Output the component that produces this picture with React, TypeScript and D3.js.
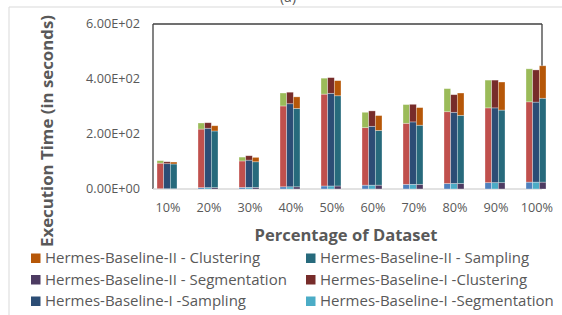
import React from 'react';
import * as d3 from 'd3';

const categories = ['10%', '20%', '30%', '40%', '50%', '60%', '70%', '80%', '90%', '100%'];
const yTicks = [0, 200, 400, 600];

// Hermes (first bar in each group)
const hermesSeg = [1, 5, 6, 8, 11, 14, 17, 20, 23, 25];
const hermesSamp = [93, 213, 96, 294, 334, 209, 222, 261, 272, 292];
const hermesClust = [9, 22, 14, 47, 58, 56, 68, 84, 101, 120];

// Hermes-Baseline-I (second bar)
const b1Seg = [1, 5, 6, 8, 11, 14, 17, 20, 23, 25];
const b1Samp = [91, 216, 99, 302, 337, 214, 227, 259, 272, 291];
const b1Clust = [7, 20, 16, 42, 57, 56, 64, 64, 101, 117];

// Hermes-Baseline-II (third bar)
const b2Seg = [1, 5, 6, 8, 11, 14, 17, 20, 23, 25];
const b2Samp = [90, 206, 93, 285, 328, 199, 215, 248, 264, 305];
const b2Clust = [7, 19, 16, 42, 55, 54, 64, 81, 102, 118];

const groups = [
  { key: 'hermes', parts: [
    { name: 'Hermes - Segmentation', values: hermesSeg, color: '#4F81BD' },
    { name: 'Hermes - Sampling', values: hermesSamp, color: '#C0504D' },
    { name: 'Hermes - Clustering', values: hermesClust, color: '#9BBB59' },
  ] },
  { key: 'b1', parts: [
    { name: 'Hermes-Baseline-I -Segmentation', values: b1Seg, color: '#4BACC6' },
    { name: 'Hermes-Baseline-I -Sampling', values: b1Samp, color: '#2C4D75' },
    { name: 'Hermes-Baseline-I -Clustering', values: b1Clust, color: '#772C2A' },
  ] },
  { key: 'b2', parts: [
    { name: 'Hermes-Baseline-II - Segmentation', values: b2Seg, color: '#4D3B62' },
    { name: 'Hermes-Baseline-II - Sampling', values: b2Samp, color: '#276A7C' },
    { name: 'Hermes-Baseline-II - Clustering', values: b2Clust, color: '#B65708' },
  ] },
];

const legendItems = [
  ['Hermes-Baseline-II - Clustering', '#B65708'],
  ['Hermes-Baseline-II - Sampling', '#276A7C'],
  ['Hermes-Baseline-II - Segmentation', '#4D3B62'],
  ['Hermes-Baseline-I -Clustering', '#772C2A'],
  ['Hermes-Baseline-I -Sampling', '#2C4D75'],
  ['Hermes-Baseline-I -Segmentation', '#4BACC6'],
];

const fmtExp = (v: number) => {
  const s = d3.format('.2e')(v); // e.g. 6.00e+2
  const [m, e] = s.split('e');
  const sign = e[0];
  const digits = e.slice(1).padStart(2, '0');
  return `${m}E${sign}${digits}`;
};

const FONT = '"Open Sans", "Noto Sans", sans-serif';
const GRAY = '#595959';

export default function App() {
  const width = 562, height = 315;
  const plot = { left: 153, right: 542, top: 24, bottom: 189 };

  const x = d3.scalePoint<string>().domain(categories).range([167, 536]);
  const inner = d3.scaleBand<string>().domain(groups.map(g => g.key)).range([-10, 10]).padding(0);
  const y = d3.scaleLinear().domain([0, 600]).range([plot.bottom, plot.top]);

  const bars: JSX.Element[] = [];
  categories.forEach((c, i) => {
    groups.forEach(g => {
      let base = 0;
      g.parts.forEach(p => {
        const v = p.values[i];
        const y0 = y(base), y1 = y(base + v);
        bars.push(
          <rect key={`${c}-${p.name}`} x={(x(c) as number) + (inner(g.key) as number)} y={y1}
            width={inner.bandwidth()} height={Math.max(0, y0 - y1)} fill={p.color}
            stroke="rgba(255,255,255,0.45)" strokeWidth={0.7} />
        );
        base += v;
      });
    });
  });

  return (
    <div style={{ position: 'fixed', left: 0, top: 0 }}>
      <svg width={width} height={height} style={{ display: 'block', background: '#fff' }}>
        {/* outer chart border */}
        <line x1={9} x2={width} y1={7} y2={7} stroke="#D9D9D9" strokeWidth={1} />
        <line x1={9} x2={9} y1={7} y2={height} stroke="#D9D9D9" strokeWidth={1} />
        <text x={288} y={2} textAnchor="middle" fontFamily={FONT} fontSize={14} fill={GRAY}>(a)</text>

        {/* plot frame */}
        <line x1={plot.left} x2={plot.right} y1={plot.top} y2={plot.top} stroke="#404040" strokeWidth={1.3} />
        <line x1={plot.left} x2={plot.left} y1={plot.top} y2={plot.bottom} stroke="#404040" strokeWidth={1.3} />
        <line x1={plot.right} x2={plot.right} y1={plot.top} y2={plot.bottom} stroke="#404040" strokeWidth={1.3} />
        <line x1={plot.left} x2={plot.right} y1={plot.bottom} y2={plot.bottom} stroke="#D9D9D9" strokeWidth={1.5} />

        {bars}

        {yTicks.map(t => (
          <text key={t} x={140} y={y(t)} dy="0.35em" textAnchor="end" fontFamily={FONT}
            fontSize={12.7} fill={GRAY}>{fmtExp(t)}</text>
        ))}
        {categories.map(c => (
          <text key={c} x={(x(c) as number) + 1} y={212} textAnchor="middle" fontFamily={FONT}
            fontSize={12.7} fill={GRAY}>{c}</text>
        ))}

        <text x={346} y={241} textAnchor="middle" fontFamily={FONT} fontSize={16} fontWeight="bold"
          fill={GRAY} textLength={183} lengthAdjust="spacingAndGlyphs">Percentage of Dataset</text>
        <text transform="translate(53,131) rotate(-90)" textAnchor="middle" fontFamily={FONT}
          fontSize={16} fontWeight="bold" fill={GRAY} textLength={232}
          lengthAdjust="spacingAndGlyphs">Execution Time (in seconds)</text>

        {legendItems.map(([name, color], i) => {
          const col = i % 2, row = Math.floor(i / 2);
          const lx = col === 0 ? 31 : 306;
          const cy = 258 + row * 21.5;
          return (
            <g key={name}>
              <rect x={lx} y={cy - 4.5} width={9.5} height={9.5} fill={color} />
              <text x={lx + 14} y={cy} dy="0.36em" fontFamily={FONT} fontSize={15} fill={GRAY}>{name}</text>
            </g>
          );
        })}
      </svg>
    </div>
  );
}
